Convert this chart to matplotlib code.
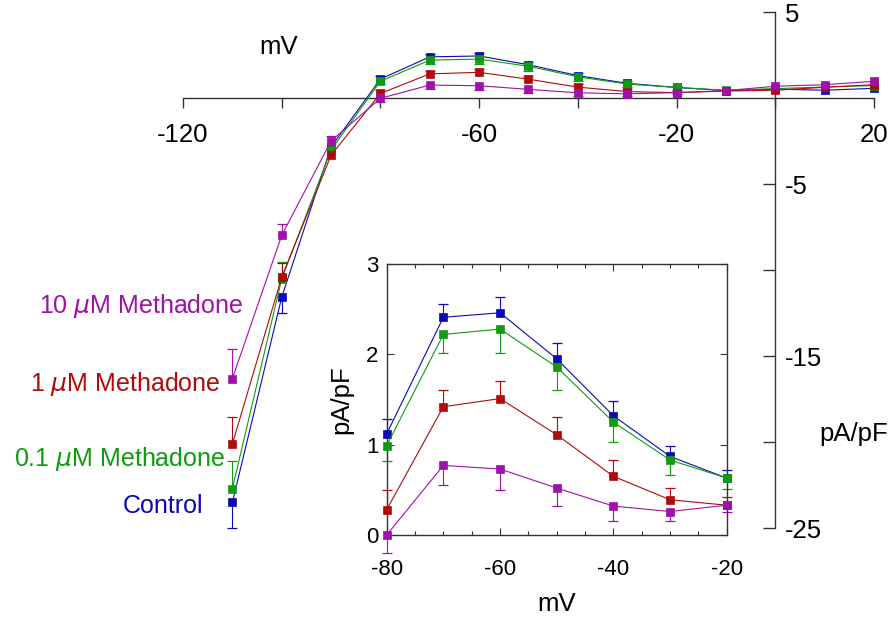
"""
I-V curves for control and methadone, with zoomed inset of the outward hump
"""

import matplotlib.pyplot as plt
import numpy as np
from matplotlib.ticker import MultipleLocator

plt.rcParams['font.family'] = ['Liberation Sans', 'DejaVu Sans']
plt.rcParams['axes.unicode_minus'] = False

# voltage steps (mV)
volts = np.array([-110, -100, -90, -80, -70, -60, -50, -40, -30, -20, -10, 0, 10, 20])

# current density (pA/pF)
control = np.array([-23.5, -11.57, -2.83, 1.12, 2.41, 2.46, 1.95, 1.32, 0.87, 0.63, 0.45, 0.53, 0.47, 0.58])
metha_01 = np.array([-22.7, -10.5, -3.0, 0.99, 2.22, 2.28, 1.86, 1.25, 0.83, 0.63, 0.47, 0.56, 0.66, 0.74])
metha_1 = np.array([-20.1, -10.4, -3.31, 0.28, 1.42, 1.51, 1.11, 0.65, 0.39, 0.33, 0.42, 0.47, 0.64, 0.79])
metha_10 = np.array([-16.3, -7.97, -2.48, 0.0, 0.77, 0.73, 0.52, 0.32, 0.26, 0.33, 0.45, 0.70, 0.79, 0.99])

# one sided error bars (only the visible half is drawn)
control_up = np.array([0, 0, 0, 0.16, 0.15, 0.18, 0.18, 0.16, 0.12, 0.09, 0, 0, 0, 0])
control_down = np.array([1.5, 0.9, 0, 0, 0, 0, 0, 0, 0, 0, 0, 0, 0, 0])
metha_01_up = np.array([1.6, 1.0, 0, 0, 0, 0, 0, 0, 0, 0, 0, 0, 0, 0])
metha_01_down = np.array([0, 0, 0, 0.17, 0.20, 0.26, 0.25, 0.22, 0.17, 0.12, 0, 0, 0, 0])
metha_1_up = np.array([1.55, 0.8, 0, 0.22, 0.18, 0.20, 0.20, 0.18, 0.13, 0.09, 0, 0, 0, 0])
metha_1_down = np.zeros(14)
metha_10_up = np.array([1.7, 0.68, 0.29, 0, 0, 0, 0, 0, 0, 0, 0, 0, 0, 0])
metha_10_down = np.array([0, 0, 0, 0.2, 0.22, 0.23, 0.20, 0.16, 0.10, 0.08, 0, 0, 0, 0])

names = ['10 $\\mu$M Methadone', '1 $\\mu$M Methadone', '0.1 $\\mu$M Methadone', 'Control']

# inset covers -80 .. -20 mV
ins = slice(3, 10)

blue = '#0a0ab4'
green = '#109c10'
red = '#b00a0a'
magenta = '#a010aa'

series = [
    (control, control_up, control_down, blue),
    (metha_01, metha_01_up, metha_01_down, green),
    (metha_1, metha_1_up, metha_1_down, red),
    (metha_10, metha_10_up, metha_10_down, magenta),
]


def draw(ax, x, y, up, down, c, ms, cap):
    # error bars first so markers sit on top
    m = up > 0
    ax.vlines(x[m], y[m], y[m] + up[m], color=c, lw=0.8, clip_on=False, zorder=2)
    ax.plot(x[m], y[m] + up[m], '_', color=c, ms=cap, mew=0.9, clip_on=False, zorder=2)
    m = down > 0
    ax.vlines(x[m], y[m] - down[m], y[m], color=c, lw=0.8, clip_on=False, zorder=2)
    ax.plot(x[m], y[m] - down[m], '_', color=c, ms=cap, mew=0.9, clip_on=False, zorder=2)
    ax.plot(x, y, '-s', color=c, lw=0.8, ms=ms, mec=c, mew=0.5, clip_on=False, zorder=3)


fig = plt.figure(figsize=(8.94, 6.17), dpi=100)

#main plot, axes crossing at zero
ax = fig.add_axes([183 / 894, 1 - 528.3 / 617, (874 - 183) / 894, (528.3 - 12.3) / 617])
ax.set_xlim(-120, 20)
ax.set_ylim(-25, 5)
ax.spines['top'].set_visible(False)
ax.spines['left'].set_visible(False)
ax.spines['bottom'].set_position(('data', 0))
ax.spines['right'].set_position(('data', 0))
for s in ['bottom', 'right']:
    ax.spines[s].set_color('#333333')
    ax.spines[s].set_linewidth(1.0)
ax.xaxis.set_ticks_position('bottom')
ax.yaxis.set_ticks_position('right')
ax.set_xticks([-120, -100, -80, -60, -40, -20, 0, 20])
ax.set_xticklabels(['-120', '', '', '-60', '', '-20', '', '20'])
ax.set_yticks([5, -5, -10, -15, -20, -25])
ax.set_yticklabels(['5', '-5', '', '-15', '', '-25'])
ax.tick_params(axis='x', direction='out', length=7, width=1, color='#333333', pad=11, labelsize=18.5)
ax.tick_params(axis='y', direction='in', length=9, width=1, color='#333333', pad=7, labelsize=18.5)

for y, up, down, c in series:
    draw(ax, volts, y, up, down, c, 5.5, 7)

ax.text(-100.7, 3.0, 'mV', fontsize=18.5, ha='center', va='center')
ax.text(15.9, -19.5, 'pA/pF', fontsize=18.5, ha='center', va='center')

# labels for each trace
ax.text(-107.8, -12.1, names[0], color=magenta, fontsize=18, ha='right', va='center', clip_on=False)
ax.text(-112.4, -16.6, names[1], color=red, fontsize=18, ha='right', va='center', clip_on=False)
ax.text(-111.4, -21.0, names[2], color=green, fontsize=18, ha='right', va='center', clip_on=False)
ax.text(-115.9, -23.7, names[3], color=blue, fontsize=18, ha='right', va='center', clip_on=False)

#inset
ax2 = fig.add_axes([386.7 / 894, 1 - 535 / 617, (726.7 - 386.7) / 894, (535 - 264) / 617])
ax2.set_xlim(-80, -20)
ax2.set_ylim(0, 3)
for s in ax2.spines.values():
    s.set_color('#333333')
    s.set_linewidth(1.0)
ax2.set_xticks([-80, -60, -40, -20])
ax2.set_yticks([0, 1, 2, 3])
ax2.xaxis.set_minor_locator(MultipleLocator(5))
ax2.tick_params(which='both', direction='in', top=True, right=True, color='#333333', width=0.8)
ax2.tick_params(which='major', length=5, labelsize=16)
ax2.tick_params(which='minor', length=3)
ax2.tick_params(axis='x', pad=17)
ax2.tick_params(axis='y', pad=6)

for y, up, down, c in series:
    draw(ax2, volts[ins], y[ins], up[ins], down[ins], c, 6, 7.5)

ax2.set_xlabel('mV', fontsize=18.5, labelpad=9)
ax2.set_ylabel('pA/pF', fontsize=18.5, labelpad=9)

fig.savefig('out.png', dpi=100)
